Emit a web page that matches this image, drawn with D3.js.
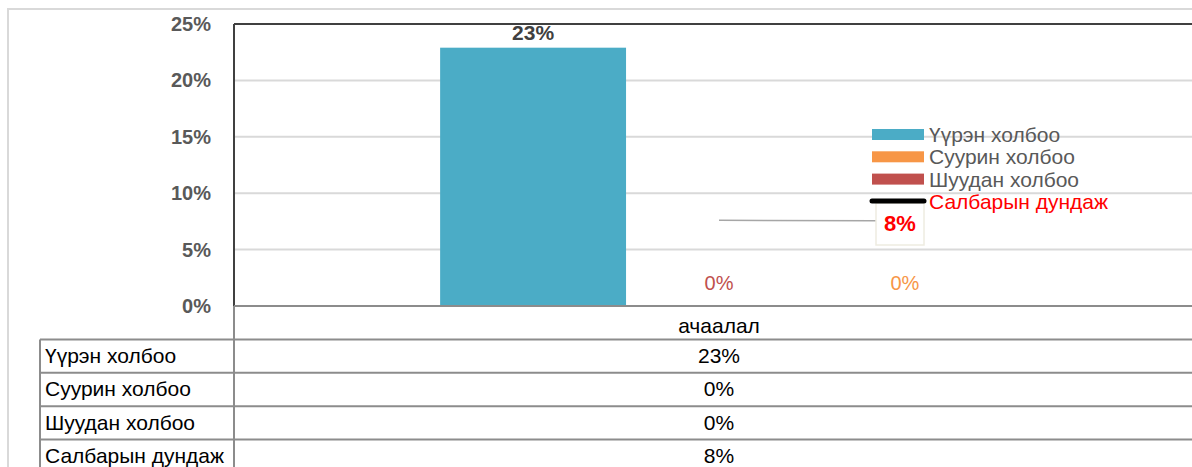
<!DOCTYPE html>
<html>
<head>
<meta charset="utf-8">
<script src="https://d3js.org/d3.v7.min.js"></script>
<style>
  body { margin: 0; background: #fff; }
  text { font-family: "Liberation Sans", Arial, sans-serif; }
</style>
</head>
<body>
<div id="chart"></div>
<script>
// data
var categories = ["ачаалал"];
var seriesNames = ["Үүрэн холбоо", "Суурин холбоо", "Шуудан холбоо"];
var seriesValues = [0.229, 0, 0];
var seriesColors = ["#4bacc6", "#f79646", "#c0504d"];
var barOrder = ["Үүрэн холбоо", "Шуудан холбоо", "Суурин холбоо"];
var avgName = "Салбарын дундаж";
var avgValue = 0.076;
var yTicks = [0, 0.05, 0.10, 0.15, 0.20, 0.25];

var W = 1192, H = 467;
var plot = {left: 234, right: 1204, top: 24, bottom: 306};
var rowH = 33.4;

var svg = d3.select("#chart").append("svg")
    .attr("width", W).attr("height", H);

var pct = d3.format(".0%");
var colorOf = d3.scaleOrdinal().domain(seriesNames).range(seriesColors);
var valueOf = {};
seriesNames.forEach(function(n, i) { valueOf[n] = seriesValues[i]; });

var y = d3.scaleLinear().domain([0, 0.25]).range([plot.bottom, plot.top]);
var x = d3.scaleBand().domain(categories).range([plot.left, plot.right]);
var groupW = x.bandwidth() * 0.575;
var xs = d3.scaleBand().domain(barOrder)
    .range([-groupW / 2, groupW / 2]);

// outer chart border
svg.append("path")
    .attr("d", "M8," + H + "V9H" + W)
    .attr("fill", "none").attr("stroke", "#d9d9d9").attr("stroke-width", 2);

// gridlines
svg.append("g").selectAll("line")
    .data(yTicks.filter(function(t) { return t > 0 && t < 0.25; }))
    .enter().append("line")
    .attr("x1", plot.left).attr("x2", W)
    .attr("y1", function(d) { return y(d); }).attr("y2", function(d) { return y(d); })
    .attr("stroke", "#d9d9d9").attr("stroke-width", 2);

// y axis labels
var yAxis = d3.axisLeft(y).tickValues(yTicks).tickFormat(pct).tickSize(0).tickPadding(23);
var ya = svg.append("g").attr("transform", "translate(" + plot.left + ",0)").call(yAxis);
ya.select(".domain").remove();
ya.selectAll("text")
    .style("font-family", "'Liberation Sans', Arial, sans-serif")
    .style("font-size", "20px").style("font-weight", "bold")
    .attr("fill", "#595959");

// bars
var cx = x(categories[0]) + x.bandwidth() / 2;
svg.append("g").selectAll("rect")
    .data(barOrder)
    .enter().append("rect")
    .attr("x", function(d) { return cx + xs(d); })
    .attr("width", xs.bandwidth())
    .attr("y", function(d) { return y(valueOf[d]); })
    .attr("height", function(d) { return y(0) - y(valueOf[d]); })
    .attr("fill", function(d) { return colorOf(d); });

// bar labels
svg.append("g").selectAll("text")
    .data(barOrder)
    .enter().append("text")
    .attr("x", function(d) { return cx + xs(d) + xs.bandwidth() / 2; })
    .attr("y", function(d) { return valueOf[d] > 0 ? y(valueOf[d]) - 8 : y(0) - 16; })
    .attr("text-anchor", "middle")
    .style("font-size", function(d) { return valueOf[d] > 0 ? "21px" : "20px"; })
    .style("font-weight", function(d) { return valueOf[d] > 0 ? "bold" : "normal"; })
    .attr("fill", function(d) { return valueOf[d] > 0 ? "#404040" : colorOf(d); })
    .text(function(d) { return pct(valueOf[d]); });

// frame
svg.append("line").attr("x1", plot.left).attr("x2", W)
    .attr("y1", plot.top).attr("y2", plot.top)
    .attr("stroke", "#404040").attr("stroke-width", 2);
svg.append("line").attr("x1", plot.left).attr("x2", plot.left)
    .attr("y1", plot.top).attr("y2", plot.bottom)
    .attr("stroke", "#404040").attr("stroke-width", 2);

// average point label with leader line
var avgY = y(avgValue);
svg.append("line").attr("x1", cx).attr("x2", 876)
    .attr("y1", avgY).attr("y2", avgY + 0.5)
    .attr("stroke", "#a6a6a6").attr("stroke-width", 1.5);
svg.append("rect").attr("x", 876).attr("y", 203).attr("width", 48).attr("height", 42)
    .attr("fill", "#fff").attr("stroke", "#eeece1").attr("stroke-width", 1.5);
svg.append("text").attr("x", 900).attr("y", 231).attr("text-anchor", "middle")
    .style("font-size", "22px").style("font-weight", "bold")
    .attr("fill", "#ff0000").text(pct(avgValue));

// legend
var legend = svg.append("g").attr("transform", "translate(872,129)");
var li = legend.selectAll("g").data(seriesNames.concat([avgName]))
    .enter().append("g")
    .attr("transform", function(d, i) { return "translate(0," + (i * 22.3) + ")"; });
li.each(function(d, i) {
  var g = d3.select(this);
  if (i < seriesNames.length) {
    g.append("rect").attr("width", 52).attr("height", 11).attr("fill", colorOf(d));
  } else {
    g.append("line").attr("x1", 0).attr("x2", 52).attr("y1", 5).attr("y2", 5)
        .attr("stroke", "#000").attr("stroke-width", 5).attr("stroke-linecap", "round");
  }
  g.append("text").attr("x", 57).attr("y", 13)
      .style("font-size", "21px")
      .attr("fill", i < seriesNames.length ? "#595959" : "#ff0000")
      .text(d);
});

// data table
var tbl = svg.append("g");
var rows = seriesNames.concat([avgName]);
var rowVals = seriesValues.concat([avgValue]);
var tableTop = plot.bottom;
var lineCol = "#8c8c8c";
// horizontal lines
tbl.selectAll("line.h").data(d3.range(rows.length + 1))
    .enter().append("line").attr("class", "h")
    .attr("x1", function(d) { return d === 0 ? plot.left : 40; }).attr("x2", W)
    .attr("y1", function(d) { return tableTop + d * rowH; })
    .attr("y2", function(d) { return tableTop + d * rowH; })
    .attr("stroke", lineCol).attr("stroke-width", 2);
tbl.append("line").attr("x1", plot.left).attr("x2", plot.left)
    .attr("y1", tableTop).attr("y2", H).attr("stroke", lineCol).attr("stroke-width", 2);
tbl.append("line").attr("x1", 40).attr("x2", 40)
    .attr("y1", tableTop + rowH).attr("y2", H).attr("stroke", lineCol).attr("stroke-width", 2);
// header
tbl.append("text").attr("x", cx).attr("y", tableTop + 27)
    .attr("text-anchor", "middle").style("font-size", "21px").attr("fill", "#000")
    .text(categories[0]);
rows.forEach(function(r, i) {
  var yy = tableTop + (i + 1) * rowH + 23.5;
  tbl.append("text").attr("x", 45).attr("y", yy)
      .style("font-size", "21px").attr("fill", "#000").text(r);
  tbl.append("text").attr("x", cx).attr("y", yy).attr("text-anchor", "middle")
      .style("font-size", "21px").attr("fill", "#000").text(pct(rowVals[i]));
});
</script>
</body>
</html>
